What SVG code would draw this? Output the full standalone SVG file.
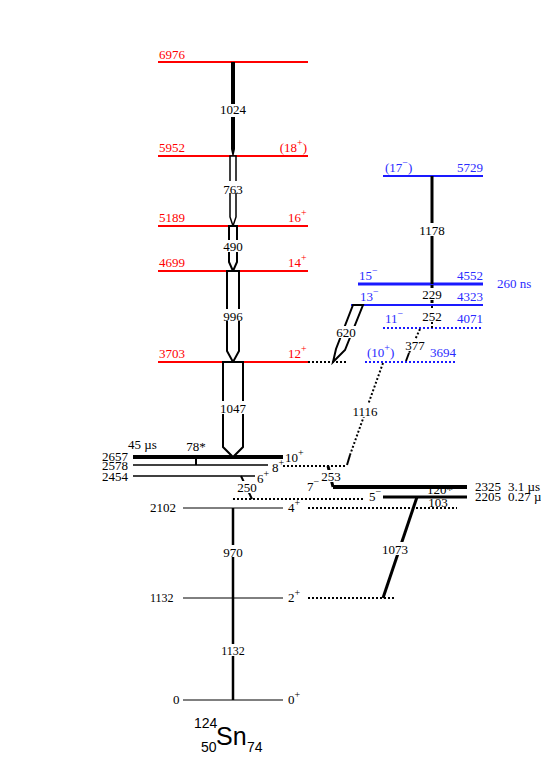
<svg xmlns="http://www.w3.org/2000/svg" width="541" height="779" viewBox="0 0 541 779">
<style>
text{font-family:"Liberation Serif","Times New Roman",serif;font-size:13px;fill:#000}
.r{fill:#ff0000}
.b{fill:#2a2aff}
.lr{stroke:#ff0000;stroke-width:2;fill:none}
.lb{stroke:#1a1aff;stroke-width:2;fill:none}
.lbd{stroke:#1a1aff;stroke-width:2;stroke-dasharray:2,2;fill:none}
.lk{stroke:#000;stroke-width:1;fill:none}
.ld{stroke:#000;stroke-width:2;stroke-dasharray:2,2;fill:none}
.tr{stroke:#000;stroke-width:3;fill:none}
.oa{stroke:#000;stroke-width:2;fill:#fff;stroke-linejoin:miter}
.bg{fill:#fff}
.m{text-anchor:middle}
.e{text-anchor:end}
.s{font-size:10px}
</style>

<!-- Red levels -->
<g id="lvl6976"><line class="lr" x1="158" y1="62" x2="308" y2="62"/><text class="r" x="159" y="59">6976</text></g>
<g id="lvl5952"><line class="lr" x1="158" y1="156" x2="308" y2="156"/><text class="r" x="159" y="152">5952</text><text class="r e" x="307" y="152">(18<tspan class="s" dy="-6">+</tspan><tspan dy="6">)</tspan></text></g>
<g id="lvl5189"><line class="lr" x1="158" y1="226" x2="308" y2="226"/><text class="r" x="159" y="222">5189</text><text class="r" x="288" y="222">16<tspan class="s" dy="-6">+</tspan></text></g>
<g id="lvl4699"><line class="lr" x1="158" y1="271" x2="308" y2="271"/><text class="r" x="159" y="267">4699</text><text class="r" x="288" y="267">14<tspan class="s" dy="-6">+</tspan></text></g>
<g id="lvl3703"><line class="lr" x1="158" y1="362" x2="308" y2="362"/><line class="ld" x1="308" y1="362" x2="346" y2="362"/><text class="r" x="159" y="358">3703</text><text class="r" x="288" y="358">12<tspan class="s" dy="-6">+</tspan></text></g>

<!-- Blue levels -->
<g id="lvl5729"><line class="lb" x1="383" y1="176" x2="483" y2="176"/><text class="b" x="385" y="172">(17<tspan class="s" dy="-6">−</tspan><tspan dy="6">)</tspan></text><text class="b e" x="483" y="172">5729</text></g>
<g id="lvl4552"><line class="lb" style="stroke-width:3" x1="358" y1="284" x2="483" y2="284"/><text class="b" x="359" y="280">15<tspan class="s" dy="-6">−</tspan></text><text class="b e" x="483" y="280">4552</text><text class="b" x="497" y="288">260 ns</text></g>
<g id="lvl4323"><line class="lb" x1="351" y1="305" x2="483" y2="305"/><text class="b" x="360" y="301">13<tspan class="s" dy="-6">−</tspan></text><text class="b e" x="483" y="301">4323</text></g>
<g id="lvl4071"><line class="lbd" x1="383" y1="328" x2="483" y2="328"/><text class="b" x="385" y="323">11<tspan class="s" dy="-6">−</tspan></text><text class="b e" x="483" y="323">4071</text></g>
<g id="lvl3694"><line class="lbd" x1="365" y1="362" x2="455" y2="362"/><text class="b" x="367" y="357">(10<tspan class="s" dy="-6">+</tspan><tspan dy="6">)</tspan></text><text class="b e" x="456" y="357">3694</text></g>

<!-- Black levels -->
<g id="lvl2657"><line class="lk" style="stroke-width:4" x1="133" y1="457" x2="283" y2="457"/><line class="ld" x1="283" y1="466" x2="346" y2="466"/><text x="102" y="461">2657</text><text x="128" y="449">45 µs</text><text x="285" y="462">10<tspan class="s" dy="-6">+</tspan></text></g>
<g id="lvl2578"><line class="lk" style="stroke-width:1.3" x1="133" y1="465" x2="268" y2="465"/><text x="102" y="470">2578</text><text x="272" y="472">8<tspan class="s" dy="-6">+</tspan></text></g>
<g id="lvl2454"><line class="lk" style="stroke-width:1.3" x1="133" y1="476" x2="255" y2="476"/><line class="ld" x1="233" y1="499" x2="364" y2="499"/><text x="102" y="481">2454</text><text x="257" y="483">6<tspan class="s" dy="-6">+</tspan></text></g>
<g id="lvl2325"><line class="lk" style="stroke-width:4" x1="333" y1="487" x2="467" y2="487"/><text x="307" y="491">7<tspan class="s" dy="-6">−</tspan></text><text x="475" y="491">2325</text><text x="508" y="491">3.1 µs</text></g>
<g id="lvl2205"><line class="lk" style="stroke-width:3" x1="383" y1="497" x2="467" y2="497"/><text x="369" y="501">5<tspan class="s" dy="-6">−</tspan></text><text x="475" y="501">2205</text><text x="508" y="501">0.27 µs</text></g>
<g id="lvl2102"><line class="lk" x1="183" y1="508" x2="283" y2="508"/><line class="ld" x1="308" y1="508" x2="457" y2="508"/><text x="150" y="512">2102</text><text x="288" y="512">4<tspan class="s" dy="-6">+</tspan></text></g>
<g id="lvl1132"><line class="lk" x1="183" y1="598" x2="283" y2="598"/><line class="ld" x1="308" y1="598" x2="396" y2="598"/><text x="150" y="602" style="font-size:12px">1132</text><text x="288" y="602">2<tspan class="s" dy="-6">+</tspan></text></g>
<g id="lvl0"><line class="lk" x1="183" y1="700" x2="283" y2="700"/><text x="173" y="704">0</text><text x="288" y="704">0<tspan class="s" dy="-6">+</tspan></text></g>

<!-- Connectors -->
<g id="connectors">
<polygon fill="#000" points="231,62 235,62 235,149 233.5,156 232.5,156 231,149"/>
<polygon class="oa" style="stroke-width:1.5" points="230,156 236,156 236,217 233,226 230,217"/>
<polygon class="oa" points="229,226 237,226 237,262 233,271 229,262"/>
<polygon class="oa" points="227,271 239,271 239,351 233,362 227,351"/>
<polygon class="oa" points="223,362 243,362 243,447 233,457 223,447"/>
<polygon class="oa" points="353,305 363,305 345,350 333,362 336,349"/>
<line class="tr" x1="432" y1="176" x2="432" y2="284"/>
<line class="tr" style="stroke-dasharray:3,2" x1="432" y1="285" x2="432" y2="305"/>
<line class="ld" x1="432" y1="306" x2="432" y2="328"/>
<line class="ld" x1="420" y1="329" x2="409" y2="353"/>
<line class="tr" style="stroke-width:2" x1="409" y1="353" x2="406" y2="361"/>
<line class="ld" x1="383" y1="363" x2="350" y2="455"/>
<line class="tr" style="stroke-width:2" x1="350" y1="455" x2="347" y2="465"/>
<line class="lk" style="stroke-width:2" x1="196" y1="457" x2="196" y2="465"/>
<line class="tr" x1="328" y1="466" x2="333" y2="487"/>
<line class="tr" style="stroke-width:2" x1="241" y1="476" x2="252" y2="499"/>
<line class="tr" x1="417" y1="497" x2="383" y2="598"/>
<line class="tr" style="stroke-width:2.5" x1="233" y1="508" x2="233" y2="700"/>
</g>

<!-- Transition labels -->
<g id="labels">
<rect class="bg" x="220" y="104" width="26" height="13"/><text class="m" x="233" y="114">1024</text>
<rect class="bg" x="223" y="181" width="20" height="12"/><text class="m" x="233" y="194">763</text>
<rect class="bg" x="223" y="240" width="20" height="12"/><text class="m" x="233" y="251">490</text>
<rect class="bg" x="223" y="309" width="20" height="12"/><text class="m" x="233" y="321">996</text>
<rect class="bg" x="220" y="401" width="26" height="13"/><text class="m" x="233" y="413">1047</text>
<rect class="bg" x="419" y="223" width="26" height="13"/><text class="m" x="432" y="235">1178</text>
<rect class="bg" x="422" y="288" width="20" height="12"/><text class="m" x="432" y="299">229</text>
<rect class="bg" x="422" y="310" width="20" height="12"/><text class="m" x="432" y="321">252</text>
<rect class="bg" x="405" y="339" width="20" height="12"/><text class="m" x="415" y="350">377</text>
<rect class="bg" x="336" y="326" width="20" height="12"/><text class="m" x="346" y="337">620</text>
<rect class="bg" x="352" y="404" width="26" height="13"/><text class="m" x="365" y="416">1116</text>
<text class="m" x="196" y="451">78*</text>
<rect class="bg" x="237" y="481" width="20" height="12"/><text class="m" x="247" y="492">250</text>
<rect class="bg" x="321" y="470" width="20" height="12"/><text class="m" x="331" y="481">253</text>
<rect class="bg" x="426" y="489" width="28" height="6"/><text class="m" x="440" y="494">120*</text>
<rect class="bg" x="429" y="499" width="18" height="8"/><text class="m" x="438" y="507">103</text>
<rect class="bg" x="382" y="542" width="26" height="13"/><text class="m" x="395" y="554">1073</text>
<rect class="bg" x="223" y="545" width="20" height="12"/><text class="m" x="233" y="557">970</text>
<rect class="bg" x="221" y="644" width="24" height="12"/><text class="m" x="233" y="655" style="font-size:12px">1132</text>
</g>

<g id="nucleus">
<text x="194" y="728" style="font-family:'Liberation Sans',Arial,sans-serif;font-size:14px">124</text>
<text x="201" y="752" style="font-family:'Liberation Sans',Arial,sans-serif;font-size:14px">50</text>
<text x="216" y="745" style="font-family:'Liberation Sans',Arial,sans-serif;font-size:25px">Sn</text>
<text x="247" y="752" style="font-family:'Liberation Sans',Arial,sans-serif;font-size:14px">74</text>
</g>
</svg>
